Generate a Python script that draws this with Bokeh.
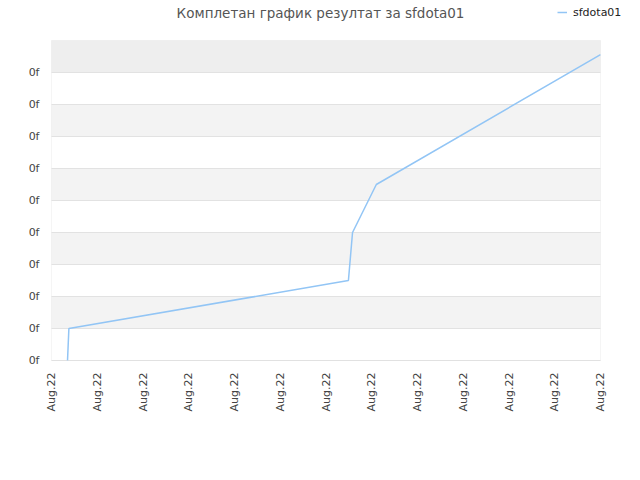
import math
from bokeh.plotting import figure
from bokeh.models import (FixedTicker, Range1d, BoxAnnotation, Legend, LegendItem, Label)
from bokeh.embed import file_html
from bokeh.resources import INLINE

title_text = "Комплетан график резултат за sfdota01"
series_name = "sfdota01"
x_vals = [0.35, 0.38, 6.49, 6.58, 7.10, 12.0]
y_vals = [0.0, 1.0, 2.5, 4.0, 5.5, 9.56]
y_ticks = [0, 1, 2, 3, 4, 5, 6, 7, 8, 9]
y_tick_labels = ["0f"] * 10
x_ticks = list(range(13))
x_tick_labels = ["Aug.22"] * 13
y_max = 10
x_max = 12

# the frame extends beyond the data area to hold the title, legend and outline
px_x = 45.75
px_y = 32
pad_left, pad_right, pad_top, pad_bottom = 4, 32, 40, 4

p = figure(width=632, height=472, output_backend="svg", toolbar_location=None,
           x_range=Range1d(-pad_left / px_x, x_max + pad_right / px_x),
           y_range=Range1d(-pad_bottom / px_y, y_max + pad_top / px_y),
           min_border_left=51 - pad_left, min_border_right=0,
           min_border_top=0, min_border_bottom=112 - pad_bottom)
p.title.visible = False
p.outline_line_color = None
p.background_fill_color = "white"
p.border_fill_color = "white"

# bands
for i in range(1, 10, 2):
    color = "#eeeeee" if i == 9 else "#f3f3f3"
    p.add_layout(BoxAnnotation(bottom=y_ticks[0] + i, top=y_ticks[0] + i + 1,
                               left=0, right=x_max,
                               fill_color=color, fill_alpha=1, line_alpha=0, level="underlay"))

p.xgrid.visible = False
p.ygrid.visible = False
p.segment(x0=[0] * len(y_ticks), x1=[x_max] * len(y_ticks), y0=y_ticks, y1=y_ticks,
          line_color="#e2e2e2", line_width=1)

r = p.line(x_vals, y_vals, line_color="#92c5f5", line_width=1.5)

# plot-area outline
p.add_layout(BoxAnnotation(left=0, right=x_max, bottom=0, top=y_max,
                           fill_alpha=0, line_color="#dddddd", line_width=1))

p.yaxis.ticker = FixedTicker(ticks=y_ticks)
p.yaxis.major_label_overrides = {t: l for t, l in zip(y_ticks, y_tick_labels)}
p.xaxis.ticker = FixedTicker(ticks=x_ticks)
p.xaxis.major_label_overrides = {t: l for t, l in zip(x_ticks, x_tick_labels)}
p.xaxis.major_label_orientation = math.pi / 2
for ax in (p.xaxis, p.yaxis):
    ax.axis_line_color = None
    ax.major_tick_line_color = None
    ax.minor_tick_line_color = None
    ax.major_tick_out = 0
    ax.minor_tick_out = 0
    ax.major_label_text_font = "DejaVu Sans"
    ax.major_label_text_font_size = "11px"
    ax.major_label_text_color = "#444444"
p.yaxis.major_label_standoff = 12 - pad_left
p.xaxis.major_label_standoff = 12 - pad_bottom

# title
p.add_layout(Label(x=320 - 47, y=364 - 12, x_units="screen", y_units="screen", text=title_text,
                   text_align="center", text_baseline="middle",
                   text_font="DejaVu Sans", text_font_size="13.5px",
                   text_color="#555555"))

legend = Legend(items=[LegendItem(label=series_name, renderers=[r])],
                location=(557 - 47, 344), orientation="horizontal",
                padding=0, margin=0, border_line_alpha=0, background_fill_alpha=0,
                glyph_width=10, glyph_height=16, label_height=16, label_standoff=6,
                label_text_font="DejaVu Sans", label_text_font_size="11px",
                label_text_color="#222222")
p.add_layout(legend)

open("out.html", "w").write(file_html(p, INLINE))
